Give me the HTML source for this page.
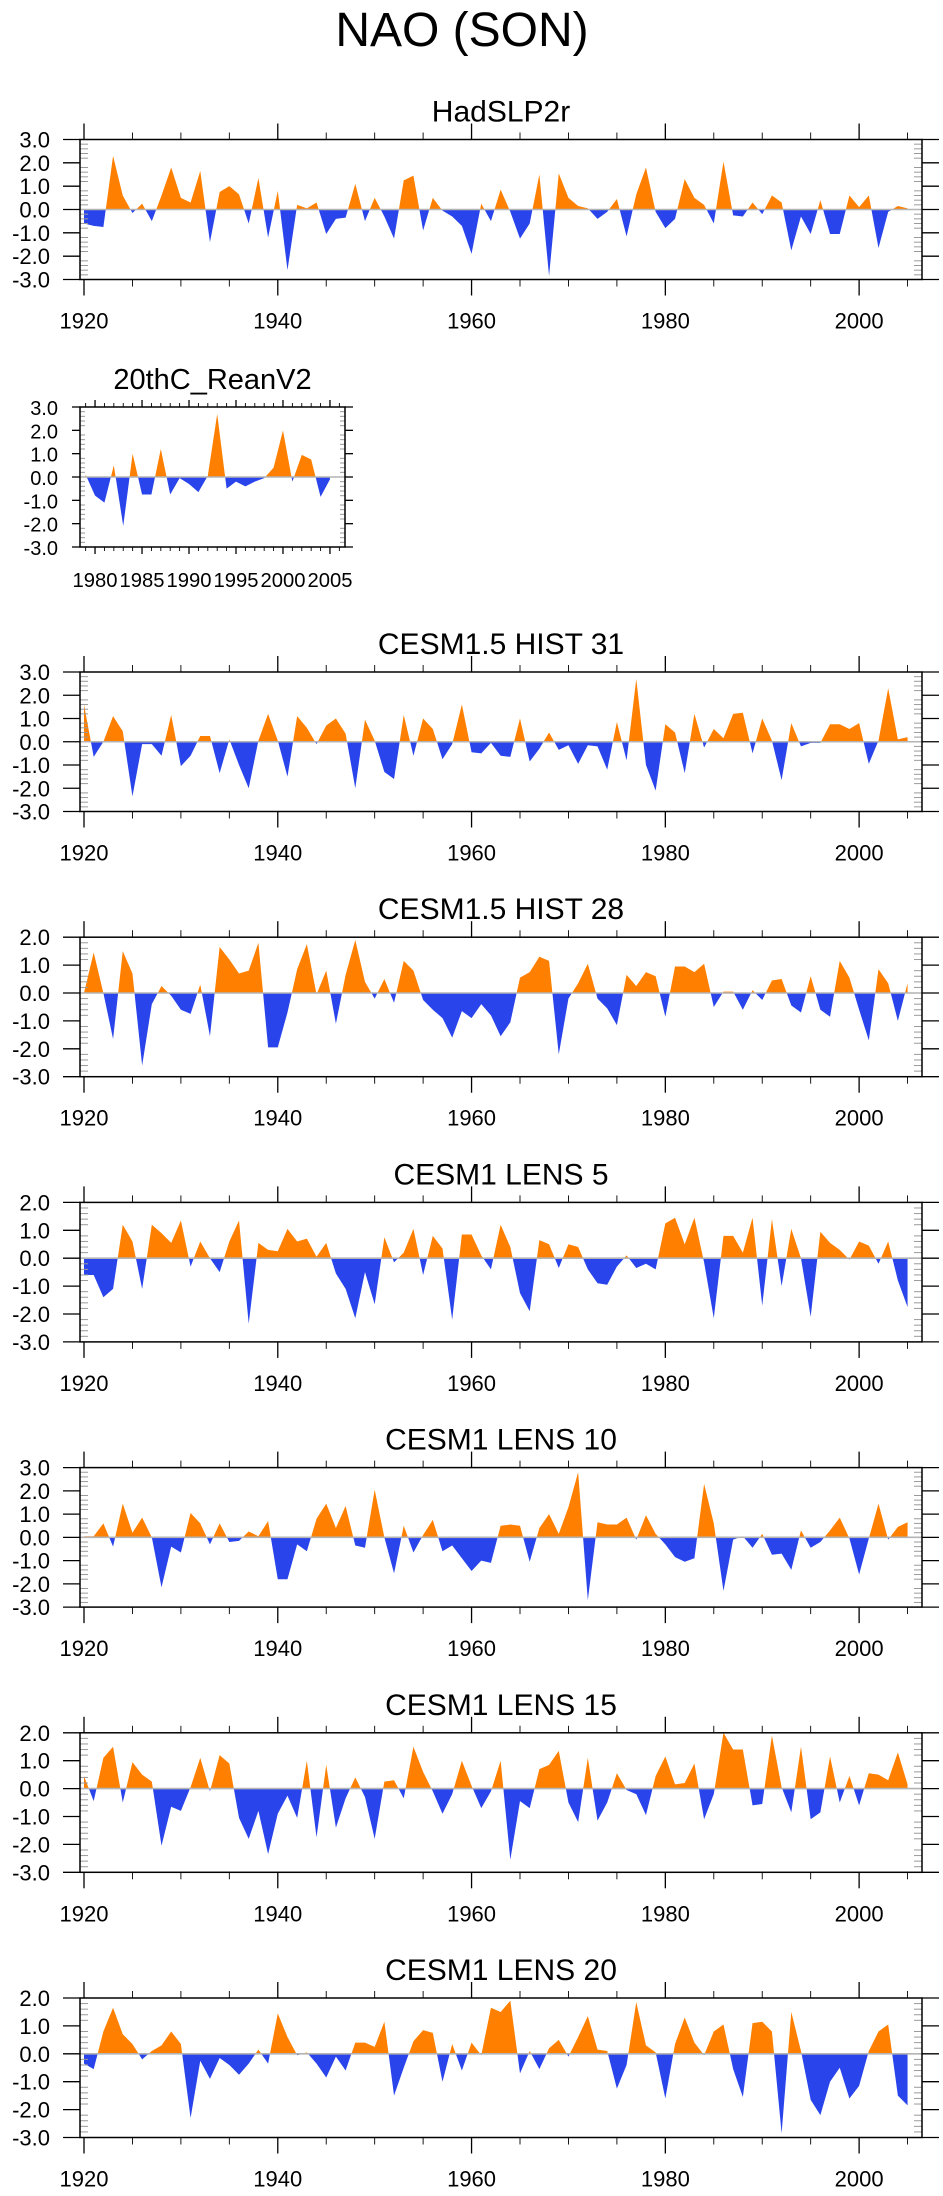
<!DOCTYPE html>
<html><head><meta charset="utf-8"><title>NAO (SON)</title>
<style>
html,body{margin:0;padding:0;background:#fff;}
svg{display:block;font-family:"Liberation Sans",Arial,sans-serif;}
</style></head>
<body>
<svg id="chart" width="943" height="2196" viewBox="0 0 943 2196" xmlns="http://www.w3.org/2000/svg">
<text x="462" y="46" font-size="48" text-anchor="middle" fill="#000">NAO (SON)</text>
</svg>
<script>
const titles = ["HadSLP2r","20thC_ReanV2","CESM1.5 HIST 31","CESM1.5 HIST 28","CESM1 LENS 5","CESM1 LENS 10","CESM1 LENS 15","CESM1 LENS 20"];
const startYears = [1920,1979,1920,1920,1920,1920,1920,1920];
const yMaxes = [3,3,3,2,2,3,2,2];
const yMin = -3;
const hadslp2r = [-0.6,-0.7,-0.75,2.3,0.6,-0.15,0.25,-0.5,0.6,1.8,0.5,0.3,1.65,-1.4,0.75,1.0,0.65,-0.6,1.35,-1.2,0.8,-2.6,0.2,0.05,0.3,-1.05,-0.4,-0.35,1.1,-0.5,0.5,-0.3,-1.25,1.25,1.45,-0.9,0.5,-0.05,-0.3,-0.7,-1.9,0.25,-0.5,0.85,-0.1,-1.25,-0.6,1.5,-2.85,1.55,0.5,0.15,0.05,-0.4,-0.1,0.45,-1.15,0.65,1.8,-0.1,-0.8,-0.4,1.3,0.5,0.2,-0.6,2.05,-0.25,-0.3,0.3,-0.2,0.6,0.3,-1.75,-0.3,-1.05,0.4,-1.05,-1.05,0.6,0.1,0.6,-1.65,-0.1,0.15,0.05];
const reanV2 = [0.1,-0.8,-1.1,0.5,-2.1,1.0,-0.75,-0.75,1.2,-0.75,-0.05,-0.3,-0.65,0.05,2.7,-0.5,-0.2,-0.4,-0.2,-0.05,0.4,2.0,-0.2,0.95,0.75,-0.85,-0.1];
const hist31 = [1.6,-0.65,0.0,1.1,0.45,-2.35,-0.1,-0.1,-0.6,1.15,-1.05,-0.6,0.25,0.25,-1.35,0.1,-1.0,-2.0,0.05,1.2,0.05,-1.5,1.1,0.6,-0.1,0.7,1.0,0.35,-2.0,0.95,0.05,-1.3,-1.6,1.15,-0.6,1.0,0.55,-0.75,-0.1,1.6,-0.45,-0.5,-0.05,-0.6,-0.65,1.0,-0.85,-0.3,0.4,-0.35,-0.15,-0.95,-0.15,-0.2,-1.2,0.85,-0.8,2.7,-1.0,-2.1,0.75,0.4,-1.35,1.2,-0.25,0.55,0.15,1.2,1.25,-0.5,1.0,0.05,-1.65,0.8,-0.2,-0.05,-0.05,0.75,0.75,0.55,0.8,-0.95,0.05,2.3,0.1,0.2];
const hist28 = [0.0,1.45,0.0,-1.65,1.5,0.7,-2.6,-0.4,0.25,-0.1,-0.6,-0.75,0.3,-1.55,1.65,1.2,0.7,0.8,1.8,-1.95,-1.95,-0.7,0.85,1.75,-0.05,0.8,-1.1,0.65,1.9,0.4,-0.2,0.5,-0.35,1.15,0.8,-0.25,-0.6,-0.9,-1.6,-0.65,-0.9,-0.4,-0.8,-1.55,-1.05,0.55,0.75,1.3,1.15,-2.2,-0.2,0.35,1.05,-0.2,-0.55,-1.15,0.65,0.25,0.75,0.6,-0.85,0.95,0.95,0.75,1.05,-0.5,0.05,0.05,-0.6,0.1,-0.25,0.45,0.5,-0.45,-0.7,0.6,-0.6,-0.85,1.15,0.55,-0.6,-1.7,0.85,0.35,-1.0,0.35];
const lens5 = [-0.6,-0.6,-1.4,-1.1,1.2,0.6,-1.1,1.2,0.9,0.55,1.35,-0.3,0.6,0.0,-0.5,0.6,1.35,-2.35,0.55,0.3,0.25,1.05,0.6,0.7,0.05,0.55,-0.55,-1.1,-2.15,-0.5,-1.65,0.75,-0.15,0.2,1.05,-0.6,0.8,0.35,-2.2,0.85,0.85,0.1,-0.4,1.2,0.4,-1.25,-1.9,0.65,0.5,-0.35,0.5,0.4,-0.4,-0.9,-0.95,-0.3,0.1,-0.35,-0.2,-0.4,1.25,1.45,0.5,1.45,-0.15,-2.15,0.8,0.8,0.2,1.45,-1.7,1.4,-1.0,1.05,0.0,-2.1,0.95,0.55,0.3,-0.05,0.6,0.45,-0.2,0.6,-0.8,-1.75];
const lens10 = [0.05,0.05,0.6,-0.4,1.45,0.2,0.85,0.0,-2.15,-0.4,-0.65,1.05,0.6,-0.3,0.6,-0.2,-0.15,0.25,0.05,0.7,-1.8,-1.8,-0.3,-0.6,0.8,1.45,0.4,1.35,-0.35,-0.45,2.05,0.0,-1.55,0.5,-0.65,0.1,0.75,-0.6,-0.35,-0.9,-1.45,-1.0,-1.1,0.5,0.55,0.5,-1.05,0.4,1.0,0.15,1.3,2.8,-2.7,0.65,0.55,0.55,0.85,-0.1,0.95,0.15,-0.3,-0.85,-1.05,-0.9,2.3,0.6,-2.3,-0.1,0.05,-0.45,0.15,-0.75,-0.7,-1.4,0.3,-0.45,-0.2,0.3,0.85,-0.05,-1.6,-0.05,1.45,-0.1,0.45,0.65];
const lens15 = [0.45,-0.45,1.1,1.5,-0.5,0.95,0.5,0.25,-2.05,-0.65,-0.8,0.05,1.1,-0.1,1.2,0.9,-1.05,-1.8,-0.8,-2.35,-0.9,-0.25,-1.05,1.0,-1.75,0.85,-1.4,-0.35,0.4,-0.3,-1.8,0.25,0.3,-0.35,1.5,0.6,-0.1,-0.9,-0.2,1.0,0.1,-0.7,-0.1,1.0,-2.55,-0.45,-0.7,0.7,0.85,1.35,-0.5,-1.2,1.1,-1.15,-0.5,0.55,-0.05,-0.2,-0.95,0.45,1.15,0.15,0.2,0.9,-1.1,-0.2,2.0,1.4,1.4,-0.6,-0.55,1.9,0.05,-0.85,1.5,-1.1,-0.85,1.15,-0.5,0.45,-0.6,0.55,0.5,0.3,1.3,0.15];
const lens20 = [-0.35,-0.55,0.8,1.65,0.7,0.35,-0.2,0.1,0.3,0.8,0.35,-2.3,-0.25,-0.9,-0.15,-0.4,-0.75,-0.35,0.15,-0.35,1.45,0.6,-0.05,0.05,-0.35,-0.85,-0.1,-0.6,0.4,0.4,0.25,1.15,-1.5,-0.5,0.45,0.85,0.75,-1.0,0.35,-0.6,0.4,-0.05,1.65,1.5,1.9,-0.7,0.1,-0.55,0.2,0.5,-0.1,0.6,1.35,0.15,0.1,-1.25,-0.4,1.85,0.3,0.05,-1.6,0.35,1.3,0.4,-0.05,0.8,1.05,-0.55,-1.55,1.1,1.15,0.8,-2.85,1.5,0.1,-1.65,-2.2,-1.0,-0.5,-1.6,-1.15,0.1,0.8,1.05,-1.5,-1.85];
const seriesList = [hadslp2r,reanV2,hist31,hist28,lens5,lens10,lens15,lens20];

const NS = "http://www.w3.org/2000/svg";
const svg = document.getElementById("chart");
function mk(tag, attrs, parent){
  const e = document.createElementNS(NS, tag);
  for (const k in attrs) e.setAttribute(k, attrs[k]);
  (parent||svg).appendChild(e);
  return e;
}
// layout (not data)
const layouts = [];
layouts.push({left:80,right:922,top:139.5,bottom:279.5,x0:1919.587,x1:2006.49,small:false});
layouts.push({left:80,right:345,top:407,bottom:547,x0:1978.40,x1:2006.6,small:true});
for (let k=0;k<6;k++){ const t=672+265.2*k; layouts.push({left:80,right:922,top:t,bottom:t+139.5,x0:1919.587,x1:2006.49,small:false}); }

layouts.forEach((L,i)=>{
  const vals = seriesList[i], y0 = startYears[i], yMax = yMaxes[i];
  const g = mk("g",{});
  
  
  const xs = v => L.left + (v - L.x0)/(L.x1 - L.x0)*(L.right - L.left);
  const ys = v => L.top + (yMax - v)/(yMax - yMin)*(L.bottom - L.top);
  const cx = (L.left+L.right)/2;
  // title
  const tt = mk("text",{x:cx,y:L.top-18,"font-size":L.small?29:30,"text-anchor":"middle",fill:"#000"},g);
  tt.textContent = titles[i];
  
  
  // fills
  const pts = vals.map((v,j)=>xs(y0+j).toFixed(2)+","+ys(v).toFixed(2));
  const zy = ys(0);
  const first = xs(y0), last = xs(y0+vals.length-1);
  const poly = first.toFixed(2)+","+zy+" "+pts.join(" ")+" "+last.toFixed(2)+","+zy;
  const cidA = "ca"+i, cidB = "cb"+i;
  const defs = mk("defs",{},g);
  const c1 = mk("clipPath",{id:cidA},defs); mk("rect",{x:0,y:0,width:943,height:zy},c1);
  const c2 = mk("clipPath",{id:cidB},defs); mk("rect",{x:0,y:zy,width:943,height:2196},c2);
  const pa = mk("polygon",{points:poly,fill:"#ff8000","clip-path":"url(#"+cidA+")"},g);
  
  
  const pb = mk("polygon",{points:poly,fill:"#2a44ec","clip-path":"url(#"+cidB+")"},g);
  
  
  // zero line
  const zl = mk("line",{x1:L.left,x2:L.right,y1:zy,y2:zy,stroke:"#b4b4b4","stroke-width":1.6},g);
  
  
  // y minor ticks (inward, both sides)
  for (let m=yMin*5; m<=yMax*5; m++){
    if (m%5===0) continue;
    const y = ys(m/5);
    mk("line",{x1:L.left,x2:L.left+(L.small?5:8),y1:y,y2:y,stroke:"#9a9a9a","stroke-width":1},g);
    mk("line",{x1:L.right,x2:L.right-(L.small?5:8),y1:y,y2:y,stroke:"#9a9a9a","stroke-width":1},g);
  }
  // y major ticks + labels
  for (let v=yMin; v<=yMax; v++){
    const y = ys(v);
    const ol = L.small?8:17;
    mk("line",{x1:L.left-ol,x2:L.left,y1:y,y2:y,stroke:"#000","stroke-width":1.3},g);
    mk("line",{x1:L.right,x2:L.right+ol,y1:y,y2:y,stroke:"#000","stroke-width":1.3},g);
    const lab = mk("text",{x:L.small?L.left-22:50,y:y+8,"font-size":L.small?20:22,"text-anchor":"end",fill:"#000"},g);
    lab.textContent = v.toFixed(1);
    
    
  }
  // x ticks
  const majStep = L.small?5:20, minStep = L.small?1:5;
  for (let yr=Math.ceil(L.x0); yr<=L.x1; yr++){
    if (yr%minStep!==0) continue;
    const x = xs(yr);
    const major = yr%majStep===0;
    const len = L.small ? (major?7:4) : (major?16:7);
    mk("line",{x1:x,x2:x,y1:L.top-len,y2:L.top,stroke:"#000","stroke-width":major?1.3:0.9},g);
    mk("line",{x1:x,x2:x,y1:L.bottom,y2:L.bottom+len,stroke:"#000","stroke-width":major?1.3:0.9},g);
    if (major){
      const lab = mk("text",{x:x,y:L.small?L.bottom+40:L.bottom+49,"font-size":L.small?20:22,"text-anchor":"middle",fill:"#000"},g);
      lab.textContent = String(yr);
      if (L.small){ lab.setAttribute("textLength","45"); lab.setAttribute("lengthAdjust","spacingAndGlyphs"); }
      
      
    }
  }
  // frame
  const fr = mk("rect",{x:L.left,y:L.top,width:L.right-L.left,height:L.bottom-L.top,fill:"none",stroke:"#000","stroke-width":1.5},g);
  
  
});
</script>
</body></html>
